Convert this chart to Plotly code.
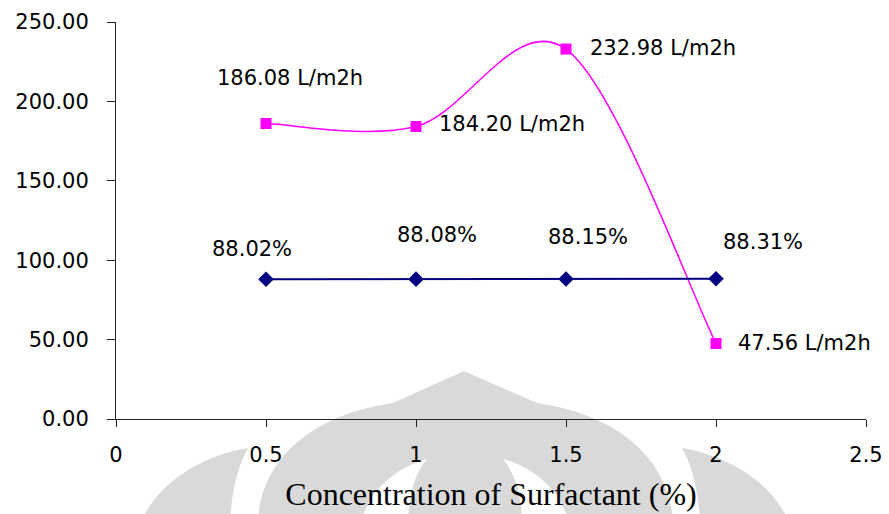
import plotly.graph_objects as go

# Surfactant concentration (%)
concentration = [0.5, 1.0, 1.5, 2.0]
# Permeate flux (L/m2h)
flux = [186.08, 184.20, 232.98, 47.56]
# Rejection (%)
rejection = [88.02, 88.08, 88.15, 88.31]

x_ticks = [0, 0.5, 1, 1.5, 2, 2.5]
y_ticks = [0, 50, 100, 150, 200, 250]

SANS = "DejaVu Sans"
SERIF = "Liberation Serif"
MAGENTA = "#FF00FF"
NAVY = "#000080"

fig = go.Figure()

fig.add_trace(go.Scatter(
    x=concentration, y=rejection, mode="lines+markers",
    line=dict(color=NAVY, width=2),
    marker=dict(symbol="diamond", size=12, color=NAVY),
    showlegend=False, hoverinfo="skip",
))
fig.add_trace(go.Scatter(
    x=concentration, y=flux, mode="markers",
    marker=dict(symbol="square", size=11, color=MAGENTA),
    showlegend=False, hoverinfo="skip",
))


def smooth_path(xs, ys):
    """Cubic Bezier path through the points (Catmull-Rom tangents, 1/6 factor)."""
    n = len(xs)
    pts = list(zip(xs, ys))
    d = [f"M{pts[0][0]},{pts[0][1]}"]
    for i in range(n - 1):
        p0 = pts[i - 1] if i > 0 else pts[i]
        p1, p2 = pts[i], pts[i + 1]
        p3 = pts[i + 2] if i + 2 < n else pts[i + 1]
        c1 = (p1[0] + (p2[0] - p0[0]) / 6, p1[1] + (p2[1] - p0[1]) / 6)
        c2 = (p2[0] - (p3[0] - p1[0]) / 6, p2[1] - (p3[1] - p1[1]) / 6)
        d.append(f"C{c1[0]:.5f},{c1[1]:.4f} {c2[0]:.5f},{c2[1]:.4f} {p2[0]},{p2[1]}")
    return " ".join(d)


# Data labels: (x shift, y shift, anchor) in pixels relative to each point
flux_offsets = [(24, 46, "center"), (21, 2, "left"), (22, 1, "left"), (20, 0, "left")]
rej_offsets = [(-14, 30, "center"), (21, 44, "center"), (22, 42, "center"), (47, 37, "center")]

annotations = []
for xv, yv, (dx, dy, anc) in zip(concentration, flux, flux_offsets):
    annotations.append(dict(
        x=xv, y=yv, xref="x", yref="y", text=f"{yv:.2f} L/m2h",
        showarrow=False, xanchor=anc, yanchor="middle", xshift=dx, yshift=dy,
        font=dict(family=SANS, size=21, color="black"),
    ))
for xv, yv, (dx, dy, anc) in zip(concentration, rejection, rej_offsets):
    annotations.append(dict(
        x=xv, y=yv, xref="x", yref="y", text=f"{yv:.2f}%",
        showarrow=False, xanchor=anc, yanchor="middle", xshift=dx, yshift=dy,
        font=dict(family=SANS, size=21, color="black"),
    ))

# Faint emblem in the background, outlined in page pixels
L, T, W, H = 116, 22, 750, 397


def px_path(cmds):
    out = []
    for c in cmds:
        if isinstance(c, str):
            out.append(c)
        else:
            px, py = c
            out.append(f"{(px - L) / W:.4f},{(T + H - py) / H:.4f}")
    return " ".join(out)


dome = px_path(["M", (258, 520), "C", (262, 460), (310, 415), (393, 403),
                "L", (464, 371), "L", (537, 403),
                "C", (620, 415), (668, 460), (673, 520), "Z"])
arch_l = px_path(["M", (427, 459), "C", (395, 468), (370, 490), (362, 520),
                  "L", (408, 520), "C", (409, 495), (414, 475), (427, 459), "Z"])
arch_r = px_path(["M", (503, 459), "C", (535, 468), (560, 490), (568, 520),
                  "L", (522, 520), "C", (521, 495), (516, 475), (503, 459), "Z"])
cres_l = px_path(["M", (248, 448), "C", (205, 455), (160, 480), (142, 520),
                  "L", (230, 520), "C", (232, 490), (238, 465), (248, 448), "Z"])
cres_r = px_path(["M", (682, 448), "C", (725, 455), (770, 480), (788, 520),
                  "L", (700, 520), "C", (698, 490), (692, 465), (682, 448), "Z"])

shapes = []
for p, col in [(dome, "#d9d9d9"), (arch_l, "white"), (arch_r, "white"),
               (cres_l, "#d9d9d9"), (cres_r, "#d9d9d9")]:
    shapes.append(dict(type="path", path=p, xref="paper", yref="paper",
                       fillcolor=col, line=dict(width=0), layer="below"))

# Smoothed flux line, drawn under the markers
shapes.append(dict(type="path", path=smooth_path(concentration, flux),
                   xref="x", yref="y", line=dict(color=MAGENTA, width=1.5),
                   fillcolor="rgba(0,0,0,0)", layer="below"))

fig.update_layout(
    width=889, height=514,
    margin=dict(l=L, r=889 - L - W, t=T, b=514 - T - H, autoexpand=False),
    paper_bgcolor="white", plot_bgcolor="rgba(0,0,0,0)",
    annotations=annotations, shapes=shapes,
    xaxis=dict(
        range=[0, 2.5], tickvals=x_ticks, ticktext=[f"{v:g}" for v in x_ticks],
        showgrid=False, zeroline=False, showline=True, linecolor="#222", linewidth=1,
        ticks="outside", ticklen=7, tickcolor="#222", ticklabelstandoff=10,
        automargin=False,
        tickfont=dict(family=SANS, size=21, color="black"),
        title=dict(text="Concentration of Surfactant (%)", standoff=16,
                   font=dict(family=SERIF, size=32, color="black")),
    ),
    yaxis=dict(
        range=[0, 250], tickvals=y_ticks, tickformat=".2f",
        showgrid=False, zeroline=False, showline=True, linecolor="#222", linewidth=1,
        ticks="outside", ticklen=8, tickcolor="#222", ticklabelstandoff=14,
        automargin=False,
        tickfont=dict(family=SANS, size=21, color="black"),
    ),
)

fig.write_html("out.html")
